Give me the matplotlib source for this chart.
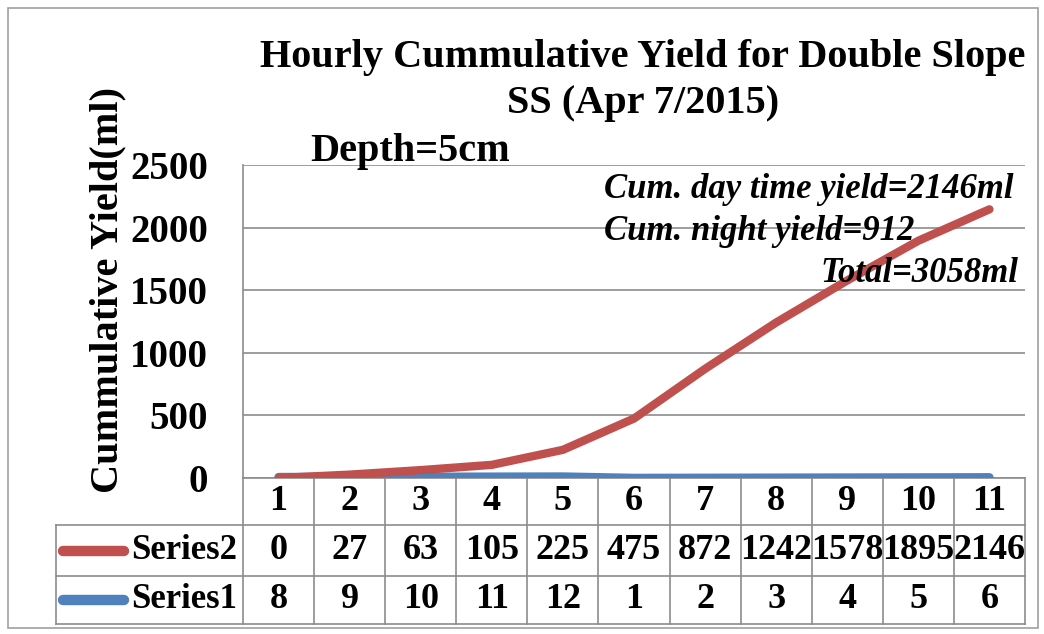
import matplotlib.pyplot as plt
import matplotlib.transforms as mtransforms

hours = [1, 2, 3, 4, 5, 6, 7, 8, 9, 10, 11]
series2 = [0, 27, 63, 105, 225, 475, 872, 1242, 1578, 1895, 2146]
series1 = [8, 9, 10, 11, 12, 1, 2, 3, 4, 5, 6]
series_names = ["Series2", "Series1"]
yticks = [0, 500, 1000, 1500, 2000, 2500]

red = "#C0504D"
blue = "#4F81BD"
grid_col = "#8c8c8c"
serif = "Liberation Serif"

W, H = 1044, 634
fig = plt.figure(figsize=(W / 100, H / 100), dpi=100)

# outer chart frame
fig.add_artist(plt.Rectangle((8 / W, 6 / H), 1030 / W, 620 / H, transform=fig.transFigure,
                             fill=False, edgecolor="#a0a0a0", lw=1.2))

left, right, top, bottom = 243, 1025, 165, 478
ax = fig.add_axes([left / W, 1 - bottom / H, (right - left) / W, (bottom - top) / H])

ax.plot(hours, series1, color=blue, lw=6, solid_capstyle="round", zorder=3)
ax.plot(hours, series2, color=red, lw=6, solid_capstyle="round", zorder=4)

ax.set_xlim(0.5, 11.5)
ax.set_ylim(0, 2500)
ax.set_yticks(yticks)
for t in yticks:
    ax.axhline(t, color=grid_col, lw=1.2, zorder=1)
for s in ["top", "right", "bottom"]:
    ax.spines[s].set_visible(False)
ax.spines["left"].set_color(grid_col)
ax.spines["left"].set_linewidth(1.2)
ax.set_xticks([])
ax.tick_params(axis="y", length=0, pad=25)
for lab in ax.get_yticklabels():
    lab.set_fontfamily(serif)
    lab.set_fontweight("bold")
    lab.set_fontsize(28)

ax.set_ylabel("Cummulative Yield(ml)", fontfamily=serif, fontweight="bold", fontsize=29)
ax.yaxis.set_label_coords(-0.149, 0.6)

# data table under the plot
px = 1 / (bottom - top)  # axes units per pixel vertically
row_edges = [0, -47 * px, -98 * px, -146 * px]
label_left = (56 - left) / (right - left)
tr = mtransforms.blended_transform_factory(ax.transData, ax.transAxes)
line_kw = dict(color=grid_col, lw=1.2, clip_on=False)

# horizontal table lines
for i, y in enumerate(row_edges):
    x0 = 0 if i == 0 else label_left
    ax.plot([x0, 1], [y, y], transform=ax.transAxes, **line_kw)
# vertical table lines
for k in range(len(hours) + 1):
    ax.plot([0.5 + k, 0.5 + k], [row_edges[0], row_edges[-1]], transform=tr, **line_kw)
ax.plot([label_left, label_left], [row_edges[1], row_edges[-1]], transform=ax.transAxes, **line_kw)

cell_kw = dict(fontfamily=serif, fontweight="bold", fontsize=26, ha="center", va="center",
               clip_on=False)
rows = [[str(h) for h in hours], [str(v) for v in series2], [str(v) for v in series1]]
for r, vals in enumerate(rows):
    yc = (row_edges[r] + row_edges[r + 1]) / 2
    for h, v in zip(hours, vals):
        ax.text(h, yc, v, transform=tr, **cell_kw)

# legend keys in the row label cells
for r, (name, col) in enumerate(zip(series_names, [red, blue])):
    yc = (row_edges[r + 1] + row_edges[r + 2]) / 2
    kx0 = (63 - left) / (right - left)
    kx1 = (124 - left) / (right - left)
    ax.plot([kx0, kx1], [yc, yc], transform=ax.transAxes, color=col, lw=7.5,
            solid_capstyle="round", clip_on=False)
    ax.text((237 - left) / (right - left), yc, name, transform=ax.transAxes,
            fontfamily=serif, fontweight="bold", fontsize=25, ha="right", va="center")

# titles and notes
fig.text(643 / W, 1 - 58 / H, "Hourly Cummulative Yield for Double Slope", ha="center", va="center",
         fontfamily=serif, fontweight="bold", fontsize=29)
fig.text(643 / W, 1 - 103 / H, "SS (Apr 7/2015)", ha="center", va="center",
         fontfamily=serif, fontweight="bold", fontsize=29)
fig.text(310 / W, 1 - 151 / H, "Depth=5cm", ha="left", va="center",
         fontfamily=serif, fontweight="bold", fontsize=29)

note_kw = dict(fontfamily=serif, fontweight="bold", fontstyle="italic", fontsize=25, va="center")
fig.text(604 / W, 1 - 190 / H, "Cum. day time yield=2146ml", ha="left", **note_kw)
fig.text(604 / W, 1 - 231 / H, "Cum. night yield=912", ha="left", **note_kw)
fig.text(1018 / W, 1 - 273 / H, "Total=3058ml", ha="right", **note_kw)

fig.savefig("out.png", dpi=100)
